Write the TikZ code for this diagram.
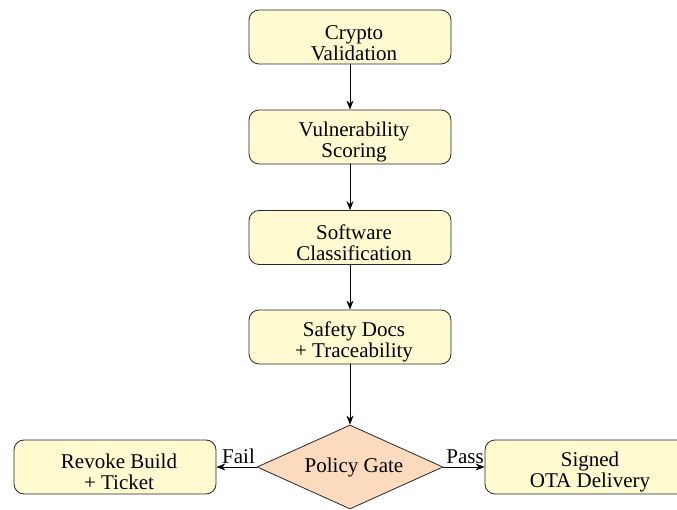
\documentclass[tikz,border=0pt]{standalone}
\usepackage{fontspec}
\setmainfont{Liberation Serif}
\usetikzlibrary{shapes.geometric,arrows.meta}
\definecolor{boxfill}{RGB}{255,250,208}
\definecolor{gatefill}{RGB}{251,218,190}
\definecolor{edgeline}{RGB}{40,40,40}
\begin{document}
\begin{tikzpicture}[x=1pt,y=-1pt,
  stage/.style={draw=edgeline, line width=0.8pt, fill=boxfill, rounded corners=10pt,
    minimum width=202pt, minimum height=54pt, inner sep=0pt},
  caption/.style={align=center, font=\fontsize{21}{20.5}\selectfont, inner sep=0pt},
  gate/.style={diamond, aspect=2.2, draw=edgeline, fill=gatefill, line width=0.8pt,
    minimum width=186pt, minimum height=84pt, inner sep=0pt,
    font=\fontsize{21}{20.5}\selectfont},
  flow/.style={-{Stealth[length=9pt,width=7pt]}, line width=0.8pt},
  tag/.style={font=\fontsize{21}{20.5}\selectfont, inner sep=0pt, anchor=base, yshift=3.5pt}]
\useasboundingbox (0,0) rectangle (677,510);

% pipeline stages
\node[stage] (crypto) at (350,37) {};
\node[stage] (vuln)   at (350,137) {};
\node[stage] (sw)     at (350,237.5) {};
\node[stage] (safety) at (350,337) {};
\node[gate]  (gate)   at (350,467) {\hspace*{8pt}Policy Gate};
\node[stage] (revoke) at (115,467) {};
\node[stage] (ota)    at (586,467) {};

% stage captions, set slightly low and right in their boxes
\node[caption] (cryptotxt)  at ([xshift=4pt,yshift=-6pt]crypto.center) {Crypto\\Validation};
\node[caption] (vulntxt)    at ([xshift=4pt,yshift=-5pt]vuln.center) {Vulnerability\\Scoring};
\node[caption] (swtxt)      at ([xshift=4pt,yshift=-5pt]sw.center) {Software\\Classification};
\node[caption] (safetytxt)  at ([xshift=4pt,yshift=-5pt]safety.center) {Safety Docs\\+ Traceability};
\node[caption] (revoketxt)  at ([xshift=4pt,yshift=-5pt]revoke.center) {Revoke Build\\+ Ticket};
\node[caption] (otatxt)     at ([xshift=4pt,yshift=-5pt]ota.center) {Signed\\OTA Delivery};

% connectors
\draw[flow] (crypto) -- (vuln);
\draw[flow] (vuln) -- (sw);
\draw[flow] (sw) -- (safety);
\draw[flow] (safety) -- (gate);
\draw[flow] (gate.west) -- node[tag, xshift=2pt] (fail) {Fail} (revoke.east);
\draw[flow] (gate.east) -- node[tag, xshift=1pt] (pass) {Pass} (ota.west);
\end{tikzpicture}
\end{document}
